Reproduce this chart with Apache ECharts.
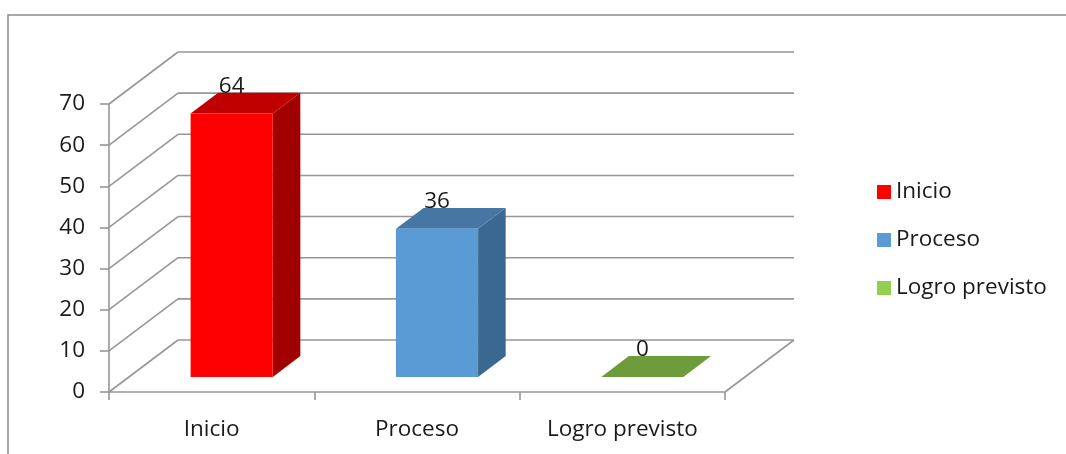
<!DOCTYPE html>
<html>
<head>
<meta charset="utf-8">
<script src="https://cdn.jsdelivr.net/npm/echarts@6/dist/echarts.min.js"></script>
<style>html,body{margin:0;padding:0;background:#fff}#c{width:1066px;height:454px}</style>
</head>
<body>
<div id="c"></div>
<script>
const categories = ['Inicio', 'Proceso', 'Logro previsto'];
const values = [64, 36, 0];
const yTicks = [0, 10, 20, 30, 40, 50, 60, 70];
const frontColors = ['#FF0000', '#5B9BD5', '#92D050'];
const sideColors = ['#A00000', '#3A6890', '#5E8A2E'];
const topColors = ['#C00000', '#4676A4', '#6E9C3C'];

const FONT = 'Open Sans';
const TXT = '#1a1a1a';
const DX = 69, DY = -52;      // depth projection of the 3D box
const F0 = 0.29, F1 = 0.69;   // bar depth range (fraction of depth)
const BW = 0.4;               // bar width (fraction of band)
const GRID = '#979797';

const chart = echarts.init(document.getElementById('c'));

function wallItem(params, api) {
  const cs = params.coordSys;
  const v = api.value(1);
  const y = api.coord([0, v])[1];
  const x0 = cs.x, x1 = cs.x + cs.width;
  const st = { stroke: GRID, lineWidth: 1.6, fill: null };
  const children = [
    { type: 'line', shape: { x1: x0, y1: y, x2: x0 + DX, y2: y + DY }, style: st },
    { type: 'line', shape: { x1: x0 + DX, y1: y + DY, x2: x1 + DX, y2: y + DY }, style: st }
  ];
  if (v === 0) {
    children.push({ type: 'line', shape: { x1: x1, y1: y, x2: x1 + DX, y2: y + DY }, style: st });
  }
  return { type: 'group', children };
}

function barItem(i) {
  return function (params, api) {
    const idx = api.value(0), v = api.value(1);
    const band = api.size([1, 0])[0];
    const cx = api.coord([idx, v])[0];
    const yTop = api.coord([idx, v])[1];
    const yBase = api.coord([idx, 0])[1];
    const w = band * BW;
    const fx = F0 * DX, fy = F0 * DY, bx = F1 * DX, by = F1 * DY;
    const L = cx - w / 2, R = cx + w / 2;
    const children = [];
    children.push({ type: 'polygon', shape: { points: [
      [R + fx, yTop + fy], [R + bx, yTop + by], [R + bx, yBase + by], [R + fx, yBase + fy]
    ] }, style: { fill: sideColors[i] } });
    children.push({ type: 'polygon', shape: { points: [
      [L + fx, yTop + fy], [R + fx, yTop + fy], [R + bx, yTop + by], [L + bx, yTop + by]
    ] }, style: { fill: topColors[i] } });
    if (yBase - yTop > 0.5) {
      children.push({ type: 'rect', shape: { x: L + fx, y: yTop + fy, width: w, height: yBase - yTop },
        style: { fill: frontColors[i] } });
    }
    children.push({ type: 'text', x: cx + fx, y: yTop + fy - 27,
      style: { text: String(v), fill: TXT, font: '22.5px "' + FONT + '"', align: 'center', verticalAlign: 'middle' } });
    return { type: 'group', children };
  };
}

const series = [{
  type: 'custom',
  name: '__walls',
  silent: true,
  data: yTicks.map(v => [0, v]),
  encode: { x: 0, y: 1 },
  renderItem: wallItem,
  z: 1
}];
categories.forEach((c, i) => {
  series.push({
    type: 'custom',
    name: c,
    data: [[i, values[i]]],
    encode: { x: 0, y: 1 },
    itemStyle: { color: frontColors[i] },
    renderItem: barItem(i),
    z: 3
  });
});

chart.setOption({
  backgroundColor: '#fff',
  animation: false,
  textStyle: { fontFamily: FONT },
  grid: { left: 109, right: 341, top: 104, bottom: 62, containLabel: false },
  graphic: [{
    type: 'rect', shape: { x: 8, y: 15, width: 1200, height: 600 },
    style: { fill: null, stroke: '#8a8a8a', lineWidth: 1.5 }, silent: true, z: 0
  }],
  legend: {
    data: categories,
    orient: 'vertical',
    left: 872,
    top: 175,
    itemWidth: 14,
    itemHeight: 14,
    itemGap: 24,
    icon: 'rect',
    textStyle: { fontFamily: FONT, fontSize: 22.5, color: TXT, lineHeight: 24 }
  },
  xAxis: {
    type: 'category',
    data: categories,
    boundaryGap: true,
    axisLine: { show: true, lineStyle: { color: GRID, width: 1.6 } },
    axisTick: { show: true, length: 8, lineStyle: { color: GRID, width: 1.6 } },
    axisLabel: { fontFamily: FONT, fontSize: 22.5, color: TXT, margin: 26 },
    splitLine: { show: false }
  },
  yAxis: {
    type: 'value',
    min: 0, max: 70, interval: 10,
    axisLine: { show: true, lineStyle: { color: GRID, width: 1.6 } },
    axisTick: { show: true, length: 9, lineStyle: { color: GRID, width: 1.6 } },
    axisLabel: { fontFamily: FONT, fontSize: 22.5, color: TXT, margin: 24 },
    splitLine: { show: false }
  },
  series
});
</script>
</body>
</html>
